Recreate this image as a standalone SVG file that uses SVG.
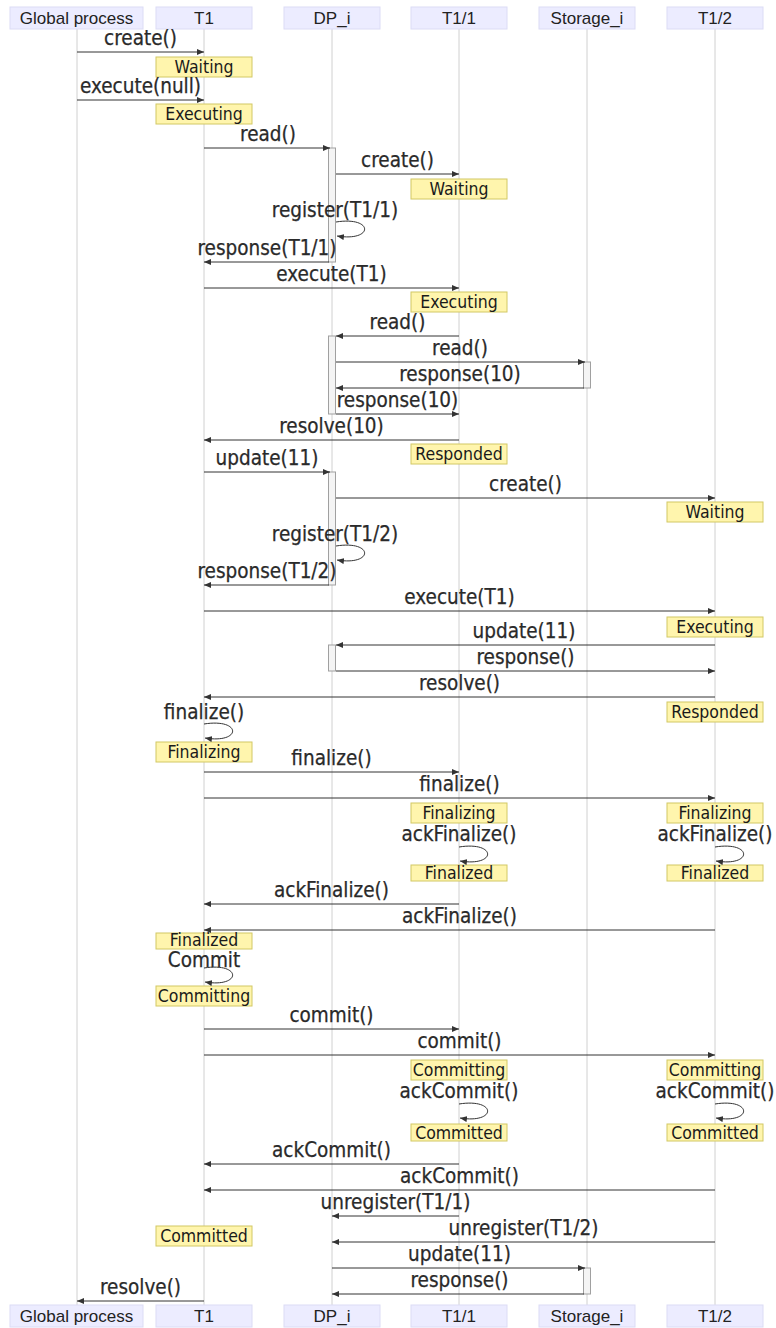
<svg xmlns="http://www.w3.org/2000/svg" width="776" height="1328" viewBox="0 0 776 1328">
<defs>
<style>
.actor rect{fill:#ECECFF;stroke:#DCDCF5;stroke-width:1}
.actor text{font-family:"Liberation Sans",Arial,sans-serif;font-size:17px;fill:#222;text-anchor:middle}
.life{stroke:#D0D0D0;stroke-width:1}
.msg{stroke:#333;stroke-width:1;fill:none;marker-end:url(#ah)}
.lbl{font-family:"DejaVu Sans Condensed","DejaVu Sans",sans-serif;font-stretch:condensed;font-size:20.5px;fill:#2a2a2a;stroke:#2a2a2a;stroke-width:0.25;text-anchor:middle}
.note rect{fill:#FFF5AD;stroke:#D2C864;stroke-width:1}
.note text{font-family:"DejaVu Sans Condensed","DejaVu Sans",sans-serif;font-stretch:condensed;font-size:17.5px;fill:#1a1a1a;text-anchor:middle}
.act{fill:#F4F4F4;stroke:#A0A0A0;stroke-width:1}
</style>
<marker id="ah" viewBox="0 0 7 6" refX="7" refY="3" markerWidth="7" markerHeight="6" markerUnits="userSpaceOnUse" orient="auto"><path d="M0,0 L7,3 L0,6 z" fill="#333"/></marker>
</defs>
<rect width="776" height="1328" fill="#fff"/>
<g id="lifelines">
<line class="life" x1="77" y1="29" x2="77" y2="1305"/>
<line class="life" x1="204" y1="29" x2="204" y2="1305"/>
<line class="life" x1="332" y1="29" x2="332" y2="1305"/>
<line class="life" x1="459" y1="29" x2="459" y2="1305"/>
<line class="life" x1="587" y1="29" x2="587" y2="1305"/>
<line class="life" x1="715" y1="29" x2="715" y2="1305"/>
</g>
<g id="actor-gp-top" class="actor"><rect x="10" y="7" width="133" height="22"/><text x="76.5" y="24">Global process</text></g>
<g id="actor-t1-top" class="actor"><rect x="156" y="7" width="96" height="22"/><text x="204" y="24">T1</text></g>
<g id="actor-dp-top" class="actor"><rect x="284" y="7" width="96" height="22"/><text x="332" y="24">DP_i</text></g>
<g id="actor-t11-top" class="actor"><rect x="411" y="7" width="96" height="22"/><text x="459" y="24">T1/1</text></g>
<g id="actor-st-top" class="actor"><rect x="539" y="7" width="96" height="22"/><text x="587" y="24">Storage_i</text></g>
<g id="actor-t12-top" class="actor"><rect x="667" y="7" width="96" height="22"/><text x="715" y="24">T1/2</text></g>

<g id="activations">
<rect class="act" x="328.5" y="148" width="7" height="114"/>
<rect class="act" x="328.5" y="336" width="7" height="78"/>
<rect class="act" x="583.5" y="362" width="7" height="26"/>
<rect class="act" x="328.5" y="472" width="7" height="113"/>
<rect class="act" x="328.5" y="645" width="7" height="26"/>
<rect class="act" x="583.5" y="1268" width="7" height="26"/>
</g>

<g id="notes">
<g id="n1" class="note"><rect x="156" y="57" width="96" height="20"/><text x="204" y="73">Waiting</text></g>
<g id="n2" class="note"><rect x="156" y="104" width="96" height="20"/><text x="204" y="120">Executing</text></g>
<g id="n3" class="note"><rect x="411" y="179" width="96" height="20"/><text x="459" y="195">Waiting</text></g>
<g id="n4" class="note"><rect x="411" y="292" width="96" height="20"/><text x="459" y="308">Executing</text></g>
<g id="n5" class="note"><rect x="411" y="444" width="96" height="20"/><text x="459" y="460">Responded</text></g>
<g id="n6" class="note"><rect x="667" y="502" width="96" height="20"/><text x="715" y="518">Waiting</text></g>
<g id="n7" class="note"><rect x="667" y="617" width="96" height="20"/><text x="715" y="633">Executing</text></g>
<g id="n8" class="note"><rect x="667" y="702" width="96" height="20"/><text x="715" y="718">Responded</text></g>
<g id="n9" class="note"><rect x="156" y="742" width="96" height="20"/><text x="204" y="758">Finalizing</text></g>
<g id="n10" class="note"><rect x="411" y="803" width="96" height="20"/><text x="459" y="819">Finalizing</text></g>
<g id="n11" class="note"><rect x="667" y="803" width="96" height="20"/><text x="715" y="819">Finalizing</text></g>
<g id="n12" class="note"><rect x="411" y="865" width="96" height="16"/><text x="459" y="879">Finalized</text></g>
<g id="n13" class="note"><rect x="667" y="865" width="96" height="16"/><text x="715" y="879">Finalized</text></g>
<g id="n14" class="note"><rect x="156" y="933" width="96" height="16"/><text x="204" y="946">Finalized</text></g>
<g id="n15" class="note"><rect x="156" y="986" width="96" height="20"/><text x="204" y="1002">Committing</text></g>
<g id="n16" class="note"><rect x="411" y="1060" width="96" height="20"/><text x="459" y="1076">Committing</text></g>
<g id="n17" class="note"><rect x="667" y="1060" width="96" height="20"/><text x="715" y="1076">Committing</text></g>
<g id="n18" class="note"><rect x="411" y="1124" width="96" height="17"/><text x="459" y="1138.5">Committed</text></g>
<g id="n19" class="note"><rect x="667" y="1124" width="96" height="17"/><text x="715" y="1138.5">Committed</text></g>
<g id="n20" class="note"><rect x="156" y="1226" width="96" height="20"/><text x="204" y="1242">Committed</text></g>
</g>

<g id="connectors">
<line class="msg" x1="77" y1="52" x2="204" y2="52"/>
<line class="msg" x1="77" y1="100" x2="204" y2="100"/>
<line class="msg" x1="204" y1="148" x2="330" y2="148"/>
<line class="msg" x1="336" y1="174" x2="459" y2="174"/>
<path class="msg" d="M336,222 C374,216 374,242 337,236"/>
<line class="msg" x1="329" y1="262" x2="204" y2="262"/>
<line class="msg" x1="204" y1="288" x2="459" y2="288"/>
<line class="msg" x1="459" y1="336" x2="336" y2="336"/>
<line class="msg" x1="336" y1="362" x2="585" y2="362"/>
<line class="msg" x1="584" y1="388" x2="336" y2="388"/>
<line class="msg" x1="336" y1="414" x2="459" y2="414"/>
<line class="msg" x1="459" y1="440" x2="204" y2="440"/>
<line class="msg" x1="204" y1="472" x2="330" y2="472"/>
<line class="msg" x1="336" y1="498" x2="715" y2="498"/>
<path class="msg" d="M336,546 C374,540 374,566 337,560"/>
<line class="msg" x1="329" y1="585" x2="204" y2="585"/>
<line class="msg" x1="204" y1="611" x2="715" y2="611"/>
<line class="msg" x1="715" y1="645" x2="336" y2="645"/>
<line class="msg" x1="336" y1="671" x2="715" y2="671"/>
<line class="msg" x1="715" y1="697" x2="204" y2="697"/>
<path class="msg" d="M204,724 C242,718 242,744 205,738"/>
<line class="msg" x1="204" y1="772" x2="459" y2="772"/>
<line class="msg" x1="204" y1="798" x2="715" y2="798"/>
<path class="msg" d="M459,847 C497,841 497,867 460,861"/>
<path class="msg" d="M715,847 C753,841 753,867 716,861"/>
<line class="msg" x1="459" y1="904" x2="204" y2="904"/>
<line class="msg" x1="715" y1="930" x2="204" y2="930"/>
<path class="msg" d="M204,968 C242,962 242,988 205,982"/>
<line class="msg" x1="204" y1="1029" x2="459" y2="1029"/>
<line class="msg" x1="204" y1="1055" x2="715" y2="1055"/>
<path class="msg" d="M459,1104 C497,1098 497,1124 460,1118"/>
<path class="msg" d="M715,1104 C753,1098 753,1124 716,1118"/>
<line class="msg" x1="459" y1="1164" x2="204" y2="1164"/>
<line class="msg" x1="715" y1="1190" x2="204" y2="1190"/>
<line class="msg" x1="459" y1="1216" x2="332" y2="1216"/>
<line class="msg" x1="715" y1="1242" x2="332" y2="1242"/>
<line class="msg" x1="332" y1="1268" x2="585" y2="1268"/>
<line class="msg" x1="584" y1="1294" x2="332" y2="1294"/>
<line class="msg" x1="204" y1="1301" x2="77" y2="1301"/>
</g>

<g id="labels" class="lbl">
<text class="lbl" x="140.5" y="45">create()</text>
<text class="lbl" x="140.5" y="93">execute(null)</text>
<text class="lbl" x="268" y="141">read()</text>
<text class="lbl" x="397.5" y="167">create()</text>
<text class="lbl" x="335" y="217">register(T1/1)</text>
<text class="lbl" x="267" y="255">response(T1/1)</text>
<text class="lbl" x="331.5" y="281">execute(T1)</text>
<text class="lbl" x="397.5" y="329">read()</text>
<text class="lbl" x="460" y="355">read()</text>
<text class="lbl" x="460" y="381">response(10)</text>
<text class="lbl" x="397.5" y="407">response(10)</text>
<text class="lbl" x="331.5" y="433">resolve(10)</text>
<text class="lbl" x="267" y="465">update(11)</text>
<text class="lbl" x="525.5" y="491">create()</text>
<text class="lbl" x="335" y="541">register(T1/2)</text>
<text class="lbl" x="267" y="578">response(T1/2)</text>
<text class="lbl" x="459.5" y="604">execute(T1)</text>
<text class="lbl" x="524" y="638">update(11)</text>
<text class="lbl" x="525.5" y="664">response()</text>
<text class="lbl" x="459.5" y="690">resolve()</text>
<text class="lbl" x="204" y="719">finalize()</text>
<text class="lbl" x="331.5" y="765">finalize()</text>
<text class="lbl" x="459.5" y="791">finalize()</text>
<text class="lbl" x="459" y="841">ackFinalize()</text>
<text class="lbl" x="715" y="841">ackFinalize()</text>
<text class="lbl" x="331.5" y="897">ackFinalize()</text>
<text class="lbl" x="459.5" y="923">ackFinalize()</text>
<text class="lbl" x="204" y="967">Commit</text>
<text class="lbl" x="331.5" y="1022">commit()</text>
<text class="lbl" x="459.5" y="1048">commit()</text>
<text class="lbl" x="459" y="1098">ackCommit()</text>
<text class="lbl" x="715" y="1098">ackCommit()</text>
<text class="lbl" x="331.5" y="1157">ackCommit()</text>
<text class="lbl" x="459.5" y="1183">ackCommit()</text>
<text class="lbl" x="395.5" y="1209">unregister(T1/1)</text>
<text class="lbl" x="523.5" y="1235">unregister(T1/2)</text>
<text class="lbl" x="459.5" y="1261">update(11)</text>
<text class="lbl" x="459.5" y="1287">response()</text>
<text class="lbl" x="140.5" y="1294">resolve()</text>
</g>

<g id="actor-gp-bot" class="actor"><rect x="10" y="1305" width="133" height="22"/><text x="76.5" y="1322">Global process</text></g>
<g id="actor-t1-bot" class="actor"><rect x="156" y="1305" width="96" height="22"/><text x="204" y="1322">T1</text></g>
<g id="actor-dp-bot" class="actor"><rect x="284" y="1305" width="96" height="22"/><text x="332" y="1322">DP_i</text></g>
<g id="actor-t11-bot" class="actor"><rect x="411" y="1305" width="96" height="22"/><text x="459" y="1322">T1/1</text></g>
<g id="actor-st-bot" class="actor"><rect x="539" y="1305" width="96" height="22"/><text x="587" y="1322">Storage_i</text></g>
<g id="actor-t12-bot" class="actor"><rect x="667" y="1305" width="96" height="22"/><text x="715" y="1322">T1/2</text></g>
</svg>
